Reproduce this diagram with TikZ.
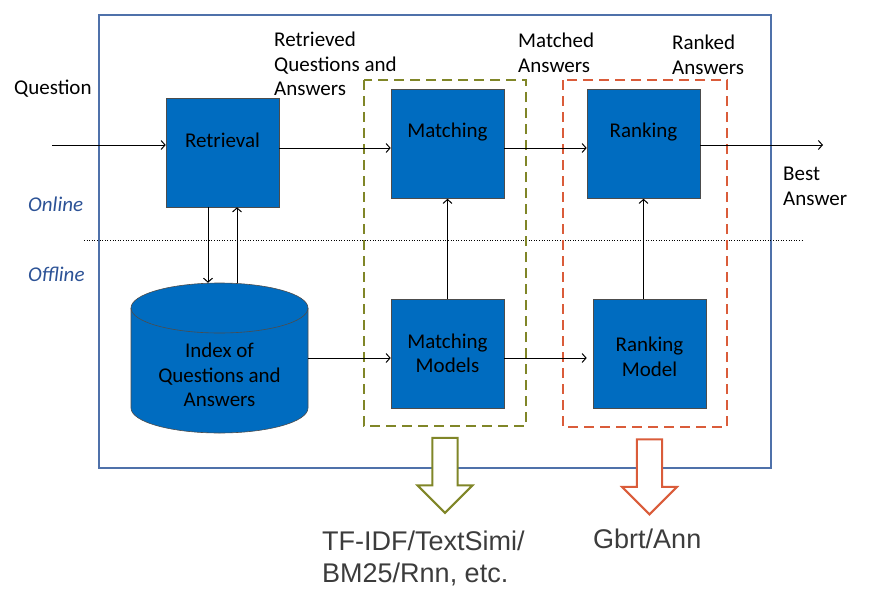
\documentclass[tikz,border=0pt]{standalone}
\usepackage{fontspec}
\setmainfont{Carlito}
\newfontfamily\arialfont{Liberation Sans}
\usepackage{tikz}
\usetikzlibrary{calc, shapes.geometric, shapes.arrows, arrows.meta, positioning}

\definecolor{boxblue}{RGB}{0,108,192}
\definecolor{framblue}{RGB}{79,113,170}
\definecolor{olivegreen}{RGB}{128,134,40}
\definecolor{rankred}{RGB}{218,92,58}
\definecolor{sidetext}{RGB}{44,82,150}
\definecolor{outtext}{RGB}{60,60,60}

\begin{document}
\begin{tikzpicture}[x=1pt, y=-1pt, >={Straight Barb[length=4pt, width=9pt]}]
    \tikzstyle{block} = [rectangle, draw=black!70, line width=0.6pt, fill=boxblue, minimum width=113pt, minimum height=109pt, inner sep=0pt, align=center, font=\fontsize{21}{24.5}\selectfont]
    \tikzstyle{blocktext} = [align=center, font=\fontsize{21}{24.5}\selectfont]
    \tikzstyle{store} = [rectangle, minimum width=177pt, minimum height=150pt, inner sep=0pt]
    \tikzstyle{storeshape} = [draw=black!70, line width=0.6pt, fill=boxblue]
    \tikzstyle{note} = [align=left, anchor=north west, inner sep=0pt, font=\fontsize{21}{24.5}\selectfont]
    \tikzstyle{phase} = [anchor=west, inner sep=0pt, text=sidetext, font=\fontsize{21}{24.5}\selectfont\itshape]
    \tikzstyle{group} = [draw, line width=2pt, dash pattern=on 10pt off 6pt]
    \tikzstyle{hollow} = [single arrow, line width=2pt, fill=white, shape border rotate=270, minimum height=75pt, minimum width=55pt, inner sep=11pt, single arrow head extend=14pt]
    \tikzstyle{result} = [align=left, anchor=north west, inner sep=0pt, text=outtext, font=\arialfont\fontsize{27}{31.5}\selectfont]
    \tikzstyle{line} = [draw, ->, line width=1pt]

    \useasboundingbox (0,0) rectangle (869,589);

    % outer frame and online/offline split
    \draw[framblue, line width=1.6pt] (99,15) rectangle (771,468);
    \draw[dotted, line width=0.6pt] (84,240) -- (802,240);
    \node [phase] (online) at (28,204) {Online};
    \node [phase] (offline) at (28,274) {Offline};

    % dashed groups
    \draw[group, olivegreen] (364,80) rectangle (526,426);
    \draw[group, rankred] (563,80) rectangle (727,427);

    % online blocks
    \node [block, label={[blocktext, yshift=12.5pt]center:Retrieval}] (retr) at (222.5,152.5) {};
    \node [block, label={[blocktext, yshift=12pt]center:Matching}] (match) at (447.5,144) {};
    \node [block, label={[blocktext, yshift=12pt]center:Ranking}] (rank) at (643.5,144) {};

    % offline blocks
    \node [store] (index) at (219.5,358) {};
    \draw[storeshape] (131,308) -- (131,408)
        arc[start angle=180, end angle=360, x radius=88.5pt, y radius=25pt]
        -- (308,308)
        arc[start angle=0, end angle=180, x radius=88.5pt, y radius=25pt] -- cycle;
    \draw[storeshape, fill=none] (131,308)
        arc[start angle=180, end angle=360, x radius=88.5pt, y radius=25pt];
    \node [blocktext] (indextext) at (219.5,375) {Index of\\Questions and\\Answers};
    \node [block] (mmodels) at (447.5,353.5) {Matching\\Models};
    \node [block, label={[blocktext, yshift=-3.5pt]center:Ranking\\Model}] (rmodel) at (649.5,353.5) {};

    % labels
    \node [note] (qin) at (14,80) {Question};
    \node [note] (retrqa) at (274,32) {Retrieved\\Questions and\\Answers};
    \node [note] (matched) at (518,33) {Matched\\Answers};
    \node [note] (ranked) at (672,35) {Ranked\\Answers};
    \node [note] (best) at (783,167) {Best\\Answer};
    \coordinate (qstart) at (52,145);
    \coordinate (bestend) at (823,145);

    % flow
    \path [line] (qstart) -- (retr.west |- qstart);
    \path [line] (retr.east |- 0,148) -- (match.west |- 0,148);
    \path [line] (match.east |- 0,148) -- (rank.west |- 0,148);
    \path [line] (rank.east |- bestend) -- (bestend);
    \path [line] (retr.south -| 208,0) -- (index.north -| 208,0);
    \path [line] (index.north -| 237,0) -- (retr.south -| 237,0);
    \path [line] (mmodels) -- (match);
    \path [line] (rmodel.north -| rank.south) -- (rank.south);
    \path [line] (index.east |- 0,358) -- (mmodels.west |- 0,358);
    \path [line] (mmodels.east |- 0,358) -- ($(rmodel.west |- 0,358)+(-6,0)$);

    % what is used in each group
    \node [hollow, draw=olivegreen] (garrow) at (445,469) {};
    \node [hollow, draw=rankred] (rarrow) at (649.5,470.5) {};
    \node [result] (mtools) at (322,531) {TF-IDF/TextSimi/\\BM25/Rnn, etc.};
    \node [result] (rtools) at (593,529) {Gbrt/Ann};
\end{tikzpicture}
\end{document}
